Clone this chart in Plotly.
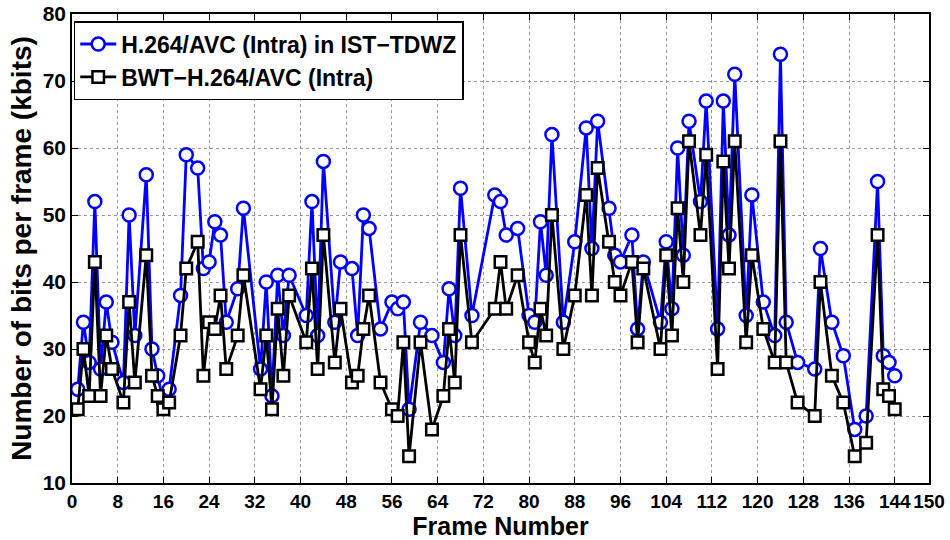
import plotly.graph_objects as go

# Frame indices at which the bit budget was sampled
frames = [1, 2, 3, 4, 5, 6, 7, 9, 10, 11, 13, 14, 15, 16, 17, 19, 20, 22, 23, 24,
          25, 26, 27, 29, 30, 33, 34, 35, 36, 37, 38, 41, 42, 43, 44, 46, 47, 49, 50, 51,
          52, 54, 56, 57, 58, 59, 61, 63, 65, 66, 67, 68, 70, 74, 75, 76, 78, 80, 81, 82,
          83, 84, 86, 88, 90, 91, 92, 94, 95, 96, 98, 99, 100, 103, 104, 105, 106, 107, 108, 110,
          111, 113, 114, 115, 116, 118, 119, 121, 123, 124, 125, 127, 130, 131, 133, 135, 137, 139, 141, 142,
          143, 144]

# kbits per frame, H.264/AVC Intra as used for key frames in IST-TDWZ
h264_intra_tdwz = [24, 34, 28, 52, 27, 37, 31, 25, 50, 32, 56, 30, 26, 22, 24, 38, 59, 57, 42, 43,
                   49, 47, 34, 39, 51, 27, 40, 23, 41, 32, 41, 35, 52, 32, 58, 34, 43, 42, 32, 50,
                   48, 33, 37, 36, 37, 21, 34, 32, 28, 39, 32, 54, 35, 53, 52, 47, 48, 35, 34, 49,
                   41, 62, 34, 46, 63, 45, 64, 51, 44, 43, 47, 33, 43, 34, 46, 36, 60, 44, 64, 52,
                   67, 33, 67, 47, 71, 35, 53, 37, 32, 74, 34, 28, 27, 45, 34, 29, 18, 20, 55, 29,
                   28, 26]

# kbits per frame, BWT-H.264/AVC Intra
bwt_h264_intra = [21, 30, 23, 43, 23, 32, 27, 22, 37, 25, 44, 26, 23, 21, 22, 32, 42, 46, 26, 34,
                  33, 38, 27, 32, 41, 24, 32, 21, 36, 26, 38, 31, 42, 27, 47, 28, 36, 25, 26, 33,
                  38, 25, 21, 20, 31, 14, 31, 18, 23, 33, 25, 47, 31, 36, 43, 36, 41, 31, 28, 36,
                  32, 50, 30, 38, 53, 38, 57, 46, 40, 38, 43, 31, 42, 30, 44, 32, 51, 40, 61, 47,
                  59, 27, 58, 42, 61, 31, 44, 33, 28, 61, 28, 22, 20, 40, 26, 22, 14, 16, 47, 24,
                  23, 21]

x_ticks = [0, 8, 16, 24, 32, 40, 48, 56, 64, 72, 80, 88, 96, 104, 112, 120, 128, 136, 144, 150]
y_ticks = [10, 20, 30, 40, 50, 60, 70, 80]

FONT = "Liberation Sans, Arial, Helvetica, sans-serif"

fig = go.Figure()
fig.add_trace(go.Scatter(
    x=frames, y=h264_intra_tdwz, mode="lines+markers",
    name="H.264/AVC (Intra) in IST\u2212TDWZ",
    line=dict(color="#0000ff", width=2.8),
    marker=dict(symbol="circle", size=13, color="white",
                line=dict(color="#0000ff", width=2.5)),
))
fig.add_trace(go.Scatter(
    x=frames, y=bwt_h264_intra, mode="lines+markers",
    name="BWT\u2212H.264/AVC (Intra)",
    line=dict(color="black", width=2.8),
    marker=dict(symbol="square", size=11.5, color="white",
                line=dict(color="black", width=2.5)),
))

axis_common = dict(
    showline=True, linecolor="black", linewidth=1.5, mirror="ticks",
    ticks="inside", ticklen=6, tickwidth=1, tickcolor="black",
    showgrid=True, gridcolor="#9a9a9a", griddash="dot", gridwidth=1,
    zeroline=False, automargin=False,
)

fig.update_xaxes(
    range=[0, 150], tickmode="array", tickvals=x_ticks,
    ticktext=[str(t) for t in x_ticks], tickangle=0,
    tickfont=dict(family=FONT, size=19, color="black", weight="bold"),
    title=dict(text="Frame Number", standoff=2,
               font=dict(family=FONT, size=25, color="black", weight="bold")),
    **axis_common,
)
fig.update_yaxes(
    range=[10, 80], tickmode="array", tickvals=y_ticks,
    ticktext=[str(t) for t in y_ticks],
    tickfont=dict(family=FONT, size=21, color="black", weight="bold"),
    title=dict(text="Number of bits per frame (kbits)", standoff=3,
               font=dict(family=FONT, size=28, color="black", weight="bold")),
    **axis_common,
)

fig.update_layout(
    width=950, height=540,
    margin=dict(l=72, r=21, t=14, b=57),
    paper_bgcolor="white", plot_bgcolor="white",
    showlegend=True,
    legend=dict(
        x=0.002, y=0.985, xanchor="left", yanchor="top",
        bgcolor="white", bordercolor="black", borderwidth=1.5,
        font=dict(family=FONT, size=23, color="black", weight="bold"),
        itemwidth=36, tracegroupgap=0,
    ),
)

fig.write_html("out.html")
